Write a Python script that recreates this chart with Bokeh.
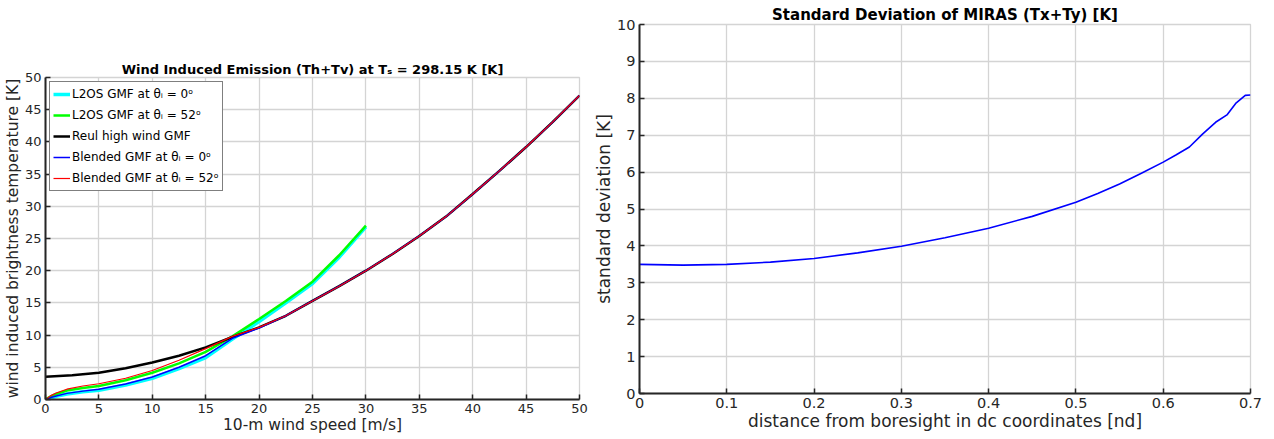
from bokeh.plotting import figure
from bokeh.layouts import row, column
from bokeh.models import Range1d, FixedTicker, Legend, LegendItem
from bokeh.embed import file_html
from bokeh.resources import INLINE

# ---------------- data: left panel ----------------
wind_low = [0, 0.5, 1, 2, 3.5, 5, 7.5, 10, 12.5, 15, 17.5, 20]
wind_l2os = [0, 0.5, 1, 2, 3.5, 5, 7.5, 10, 12.5, 15, 17.5, 20, 22.5, 25, 27.5, 30]
l2os_0 = [0, 0.25, 0.5, 0.85, 1.2, 1.45, 2.25, 3.3, 4.8, 6.5, 9.4, 12.1, 15.0, 18.0, 22.1, 26.8]
l2os_52 = [0, 0.5, 0.85, 1.4, 1.8, 2.1, 3.0, 4.15, 5.6, 7.4, 9.8, 12.5, 15.3, 18.3, 22.4, 27.0]

wind_reul = [0, 2.5, 5, 7.5, 10, 12.5, 15, 17.5, 20, 22.5, 25, 27.5, 30, 32.5, 35,
             37.5, 40, 42.5, 45, 47.5, 50]
reul = [3.55, 3.75, 4.15, 4.85, 5.75, 6.8, 8.1, 9.7, 11.2, 13.0, 15.3, 17.6, 20.0,
        22.6, 25.4, 28.4, 31.9, 35.5, 39.2, 43.1, 47.2]

blend_0_low = [0, 0.3, 0.55, 0.95, 1.3, 1.6, 2.4, 3.5, 5.0, 6.8, 9.5, 11.1]
blend_52_low = [0, 0.6, 1.0, 1.6, 2.1, 2.45, 3.3, 4.5, 6.1, 7.9, 9.8, 11.2]
wind_high = [22.5, 25, 27.5, 30, 32.5, 35, 37.5, 40, 42.5, 45, 47.5, 50]
blend_high = [13.0, 15.3, 17.6, 20.0, 22.6, 25.4, 28.4, 31.9, 35.5, 39.2, 43.1, 47.2]

wind_blend = wind_low + wind_high
blend_0 = blend_0_low + blend_high
blend_52 = blend_52_low + blend_high

left_xticks = [0, 5, 10, 15, 20, 25, 30, 35, 40, 45, 50]
left_yticks = [0, 5, 10, 15, 20, 25, 30, 35, 40, 45, 50]

# ---------------- data: right panel ----------------
dist = [0, 0.05, 0.1, 0.15, 0.2, 0.25, 0.3, 0.35, 0.4, 0.45, 0.5, 0.525, 0.55, 0.575,
        0.6, 0.615, 0.63, 0.645, 0.66, 0.673, 0.683, 0.694, 0.7]
std_dev = [3.50, 3.48, 3.50, 3.56, 3.66, 3.81, 3.99, 4.22, 4.48, 4.80, 5.18, 5.42, 5.68,
           5.97, 6.27, 6.47, 6.68, 7.03, 7.35, 7.55, 7.86, 8.08, 8.09]
right_xticks = [0, 0.1, 0.2, 0.3, 0.4, 0.5, 0.6, 0.7]
right_yticks = [0, 1, 2, 3, 4, 5, 6, 7, 8, 9, 10]

FONT = "DejaVu Sans"
AX = "#262626"
GRID = "#d4d4d4"


def style(p, xticks, yticks, title_size, tick_size, label_size):
    p.title.text_font = FONT
    p.title.text_font_size = title_size
    p.title.text_font_style = "bold"
    p.title.align = "center"
    p.title.text_color = "#000000"
    p.title.standoff = 2
    for ax in (p.xaxis[0], p.yaxis[0]):
        ax.axis_line_color = AX
        ax.axis_line_width = 2
        ax.major_tick_line_color = AX
        ax.major_tick_line_width = 1.5
        ax.major_tick_in = 5
        ax.major_tick_out = 0
        ax.minor_tick_line_color = None
        ax.major_label_text_font = FONT
        ax.major_label_text_font_size = tick_size
        ax.major_label_text_color = AX
        ax.axis_label_text_font = FONT
        ax.axis_label_text_font_size = label_size
        ax.axis_label_text_font_style = "normal"
        ax.axis_label_text_color = AX
    p.xaxis[0].ticker = FixedTicker(ticks=xticks)
    p.yaxis[0].ticker = FixedTicker(ticks=yticks)
    p.xaxis[0].major_label_standoff = 4
    p.yaxis[0].major_label_standoff = 4
    p.yaxis[0].axis_label_standoff = 0
    p.xaxis[0].axis_label_standoff = 0
    p.xgrid.grid_line_color = GRID
    p.ygrid.grid_line_color = GRID
    p.xgrid.grid_line_width = 1.3
    p.ygrid.grid_line_width = 1.3
    p.outline_line_color = GRID
    p.outline_line_width = 1.3
    p.background_fill_color = "white"
    p.border_fill_color = "white"


# ---------------- left figure ----------------
p1 = figure(frame_width=534, frame_height=322, min_border_left=45, min_border_right=12,
            min_border_top=77, min_border_bottom=40,
            x_range=Range1d(0, 50), y_range=Range1d(0, 50),
            output_backend="svg", toolbar_location=None,
            title="Wind Induced Emission (Th+Tv) at Tₛ = 298.15 K [K]",
            x_axis_label="10-m wind speed [m/s]",
            y_axis_label="wind induced brightness temperature [K]")
style(p1, left_xticks, left_yticks, "13px", "13px", "15.5px")

r_cyan = p1.line(wind_l2os, l2os_0, line_color="#00ffff", line_width=3.5)
r_green = p1.line(wind_l2os, l2os_52, line_color="#00ff00", line_width=2.5)
r_black = p1.line(wind_reul, reul, line_color="#000000", line_width=2.5)
r_blue = p1.line(wind_blend, blend_0, line_color="#0000ff", line_width=1.5)
r_red = p1.line(wind_blend, blend_52, line_color="#ff0000", line_width=1.2)

legend = Legend(items=[
    LegendItem(label="L2OS GMF at θᵢ = 0ᵒ", renderers=[r_cyan]),
    LegendItem(label="L2OS GMF at θᵢ = 52ᵒ", renderers=[r_green]),
    LegendItem(label="Reul high wind GMF", renderers=[r_black]),
    LegendItem(label="Blended GMF at θᵢ = 0ᵒ", renderers=[r_blue]),
    LegendItem(label="Blended GMF at θᵢ = 52ᵒ", renderers=[r_red]),
], location="top_left")
legend.margin = 4
legend.padding = 3
legend.spacing = 3
legend.label_height = 18
legend.glyph_height = 18
legend.glyph_width = 17
legend.label_standoff = 2
legend.label_text_font = FONT
legend.label_text_font_size = "12px"
legend.label_text_color = "#000000"
legend.border_line_color = "#000000"
legend.border_line_width = 1.5
legend.background_fill_color = "white"
legend.background_fill_alpha = 1.0
p1.add_layout(legend)

# ---------------- right figure ----------------
p2 = figure(frame_width=611, frame_height=369, min_border_left=30, min_border_right=24,
            min_border_top=24, min_border_bottom=46,
            x_range=Range1d(0, 0.7), y_range=Range1d(0, 10),
            output_backend="svg", toolbar_location=None,
            title="Standard Deviation of MIRAS (Tx+Ty) [K]",
            x_axis_label="distance from boresight in dc coordinates [nd]",
            y_axis_label="standard deviation [K]")
style(p2, right_xticks, right_yticks, "15px", "14.5px", "17px")
p2.xaxis[0].major_label_overrides = {0: "0", 0.1: "0.1", 0.2: "0.2", 0.3: "0.3",
                                     0.4: "0.4", 0.5: "0.5", 0.6: "0.6", 0.7: "0.7"}
p2.line(dist, std_dev, line_color="#0000ff", line_width=1.6)

layout = row(column(p1), column(p2))
open("out.html", "w").write(file_html(layout, INLINE))
